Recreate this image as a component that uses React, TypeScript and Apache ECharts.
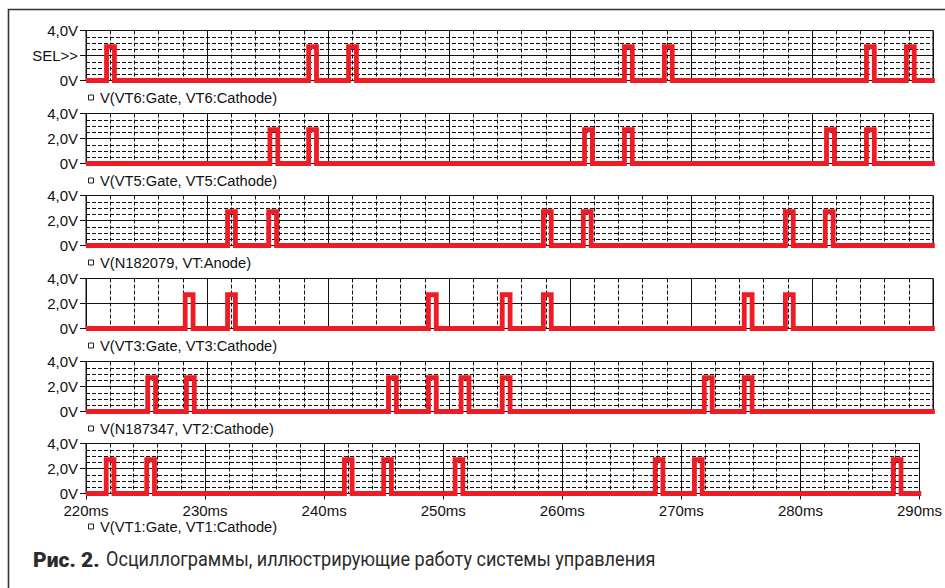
import React, { useEffect, useRef } from "react";
import * as echarts from "echarts";

// ---- data (ms) ----
const X_MIN = 220;
const X_MAX = 290;
const xTickLabels = ["220ms", "230ms", "240ms", "250ms", "260ms", "270ms", "280ms", "290ms"];
const yTickLabels = ["0V", "2,0V", "4,0V"];
const PULSE_HIGH = 2.7; // V
const PULSE_WIDTH = 0.65; // ms

const legendNames = [
  "V(VT6:Gate, VT6:Cathode)",
  "V(VT5:Gate, VT5:Cathode)",
  "V(N182079, VT:Anode)",
  "V(VT3:Gate, VT3:Cathode)",
  "V(N187347, VT2:Cathode)",
  "V(VT1:Gate, VT1:Cathode)",
];

const pulsesVT6 = [221.7, 238.4, 241.7, 264.5, 267.8, 284.5, 287.8];
const pulsesVT5 = [235.2, 238.4, 261.2, 264.5, 281.2, 284.5];
const pulsesN182079 = [231.7, 235.1, 257.8, 261.1, 277.8, 281.1];
const pulsesVT3 = [228.2, 231.7, 248.3, 254.4, 257.8, 274.4, 277.8];
const pulsesN187347 = [225.1, 228.3, 245.0, 248.3, 251.0, 254.4, 271.1, 274.4];
const pulsesVT1 = [221.7, 225.1, 241.7, 245.0, 251.0, 267.8, 271.1, 287.8];

const allPulses = [pulsesVT6, pulsesVT5, pulsesN182079, pulsesVT3, pulsesN187347, pulsesVT1];
const hMinorGrid = [true, true, true, false, true, true];

const captionBold = "Рис. 2.";
const captionText = "Осциллограммы, иллюстрирующие работу системы управления";

// ---- layout ----
const PANEL_TOPS = [30.5, 113.5, 195.5, 278.5, 361.5, 443.5];
const PANEL_H = 50;
const LEFT = 86;
const RIGHT_X = 933;
const RED = "#ee1c25";
const GRID_C = "#111";
const FONT = "Liberation Sans, Arial, sans-serif";

function buildWave(starts: number[]) {
  const pts: number[][] = [[X_MIN, 0]];
  starts.forEach((s) => {
    pts.push([s, 0], [s, PULSE_HIGH], [s + PULSE_WIDTH, PULSE_HIGH], [s + PULSE_WIDTH, 0]);
  });
  pts.push([X_MAX + 0.15, 0]);
  return pts;
}

export default function App() {
  const ref = useRef<HTMLDivElement>(null);
  useEffect(() => {
    if (!ref.current) return;
    const chart = echarts.init(ref.current, undefined, { renderer: "svg" });
    const n = allPulses.length;
    const grids: any[] = [];
    const xAxes: any[] = [];
    const yAxes: any[] = [];
    const series: any[] = [];
    const graphics: any[] = [];

    for (let i = 0; i < n; i++) {
      const last = i === n - 1;
      grids.push({
        left: LEFT,
        width: RIGHT_X - LEFT,
        top: PANEL_TOPS[i],
        height: PANEL_H,
        show: true,
        borderColor: GRID_C,
        borderWidth: 1,
        backgroundColor: "transparent",
      });
      xAxes.push({
        type: "value",
        gridIndex: i,
        min: X_MIN,
        max: X_MAX,
        interval: 10,
        axisLine: { show: true, lineStyle: { color: GRID_C, width: 1 } },
        axisTick: { show: last, length: 6, lineStyle: { color: GRID_C } },
        axisLabel: {
          show: last,
          margin: 9,
          color: "#111",
          fontSize: 15,
          fontFamily: FONT,
          formatter: (v: number) => xTickLabels[Math.round((v - X_MIN) / 10)] ?? "",
        },
        splitLine: { show: true, lineStyle: { color: GRID_C, width: 1 } },
        minorTick: { show: false, splitNumber: 5 },
        minorSplitLine: { show: true, lineStyle: { color: GRID_C, width: 1, type: [4, 2] } },
      });
      yAxes.push({
        type: "value",
        gridIndex: i,
        min: 0,
        max: 4,
        interval: 2,
        axisLine: { show: true, lineStyle: { color: GRID_C, width: 1 } },
        axisTick: { show: true, length: 6, lineStyle: { color: GRID_C } },
        axisLabel: {
          margin: 8,
          color: "#111",
          fontSize: 15,
          fontFamily: FONT,
          formatter: (v: number) => {
            if (i === 0 && v === 2) return "SEL>>";
            return yTickLabels[Math.round(v / 2)] ?? "";
          },
        },
        splitLine: { show: true, lineStyle: { color: GRID_C, width: 1 } },
        minorTick: { show: false, splitNumber: 4 },
        minorSplitLine: { show: hMinorGrid[i], lineStyle: { color: GRID_C, width: 1, type: [4, 2] } },
      });
      series.push({
        type: "line",
        xAxisIndex: i,
        yAxisIndex: i,
        data: buildWave(allPulses[i]),
        showSymbol: false,
        symbol: "none",
        clip: false,
        lineStyle: { color: RED, width: 4.8, join: "miter", cap: "butt" },
        z: 5,
      });
      const ly = PANEL_TOPS[i] + PANEL_H + (last ? 33 : 17);
      graphics.push({
        type: "rect",
        shape: { x: 88.5, y: ly - 2.5, width: 5, height: 5 },
        style: { fill: "#fff", stroke: "#222", lineWidth: 1 },
      });
      graphics.push({
        type: "text",
        x: 100,
        y: ly,
        style: {
          text: legendNames[i],
          fill: "#111",
          font: `14.7px ${FONT}`,
          verticalAlign: "middle",
        },
      });
    }

    graphics.push({
      type: "rect",
      shape: { x: 8.5, y: 9.5, width: 1200, height: 1000 },
      style: { fill: "transparent", stroke: "#333", lineWidth: 1.6 },
      z: 0,
    });
    graphics.push({
      type: "text",
      x: 33,
      y: 560,
      style: {
        text: captionBold,
        fill: "#2b2b2b",
        font: `900 21px Roboto, sans-serif`,
        verticalAlign: "middle",
      },
    });
    graphics.push({
      type: "text",
      x: 106,
      y: 560,
      scaleX: 0.928,
      style: {
        text: captionText,
        fill: "#2b2b2b",
        font: `19.5px Roboto, sans-serif`,
        verticalAlign: "middle",
      },
    });

    chart.setOption({
      animation: false,
      backgroundColor: "#fff",
      grid: grids,
      xAxis: xAxes,
      yAxis: yAxes,
      series,
      graphic: graphics,
    });
    return () => chart.dispose();
  }, []);
  return (
    <div
      ref={ref}
      style={{ position: "fixed", left: 0, top: 0, width: 945, height: 588, background: "#fff" }}
    />
  );
}
